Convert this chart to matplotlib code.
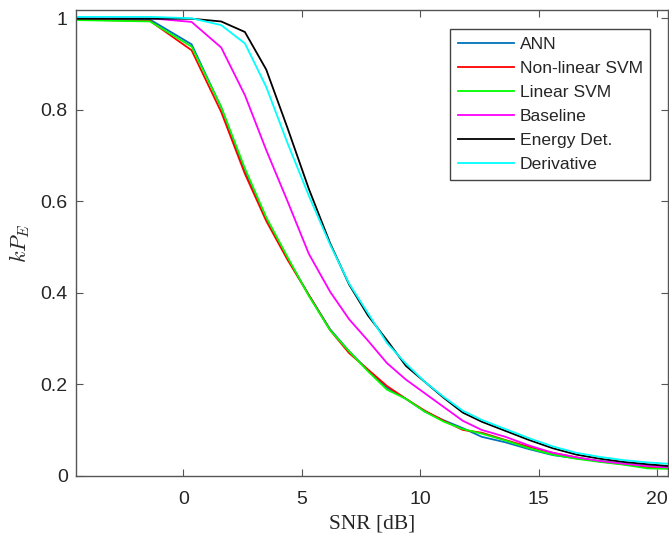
import matplotlib
matplotlib.use("Agg")
import matplotlib.pyplot as plt

# SNR grid (dB)
snr = [-4.5, -1.4, 0.35, 1.6, 2.6, 3.5, 4.4, 5.3, 6.2, 7.0, 7.8, 8.6, 9.4,
       10.2, 11.0, 11.8, 12.6, 13.6, 14.6, 15.6, 16.6, 17.6, 18.6, 19.6, 20.5]

ann = [1.000, 0.997, 0.943, 0.805, 0.665, 0.562, 0.475, 0.395, 0.320, 0.272,
       0.230, 0.192, 0.168, 0.140, 0.121, 0.104, 0.085, 0.073, 0.058, 0.045,
       0.038, 0.032, 0.026, 0.021, 0.018]
svm_nl = [0.997, 0.994, 0.930, 0.795, 0.660, 0.557, 0.472, 0.395, 0.318, 0.268,
          0.232, 0.196, 0.168, 0.142, 0.120, 0.100, 0.094, 0.078, 0.063, 0.050,
          0.040, 0.031, 0.025, 0.019, 0.016]
svm_lin = [0.996, 0.993, 0.938, 0.806, 0.672, 0.565, 0.478, 0.393, 0.318, 0.272,
           0.228, 0.188, 0.168, 0.140, 0.118, 0.102, 0.092, 0.077, 0.060, 0.046,
           0.037, 0.030, 0.024, 0.016, 0.015]
baseline = [1.000, 1.000, 0.992, 0.936, 0.832, 0.712, 0.600, 0.485, 0.402, 0.342,
            0.295, 0.246, 0.210, 0.180, 0.150, 0.120, 0.100, 0.085, 0.066, 0.050,
            0.040, 0.032, 0.026, 0.021, 0.018]
energy = [0.999, 0.999, 0.999, 0.993, 0.970, 0.888, 0.760, 0.627, 0.508, 0.418,
          0.350, 0.296, 0.240, 0.205, 0.170, 0.138, 0.118, 0.098, 0.078, 0.060,
          0.046, 0.037, 0.030, 0.025, 0.021]
deriv = [1.003, 1.003, 1.000, 0.985, 0.945, 0.850, 0.727, 0.612, 0.505, 0.420,
         0.355, 0.290, 0.245, 0.205, 0.172, 0.142, 0.122, 0.102, 0.082, 0.064,
         0.050, 0.041, 0.034, 0.029, 0.026]

labels = ["ANN", "Non-linear SVM", "Linear SVM", "Baseline", "Energy Det.", "Derivative"]
colors = ["#0072BD", "#FF0000", "#00FF00", "#FF00FF", "#000000", "#00FFFF"]
series = [ann, svm_nl, svm_lin, baseline, energy, deriv]

plt.rcParams["font.family"] = ["Liberation Sans", "DejaVu Sans"]
plt.rcParams["mathtext.fontset"] = "cm"

fig = plt.figure(figsize=(6.69, 5.36), dpi=100)
ax = fig.add_axes([0.1136, 0.1125, 0.8855, 0.8688])

for y, lab, c in zip(series, labels, colors):
    ax.plot(snr, y, color=c, lw=1.3, label=lab)

ax.set_xlim(-4.53, 20.48)
ax.set_ylim(0, 1.018)
ax.set_xticks([0, 5, 10, 15, 20])
ax.set_yticks([0, 0.2, 0.4, 0.6, 0.8, 1.0])
ax.set_yticklabels(["0", "0.2", "0.4", "0.6", "0.8", "1"])

gray = "#262626"
for s in ax.spines.values():
    s.set_color("#555555")
    s.set_linewidth(1.0)
ax.tick_params(direction="in", top=True, right=True, length=5, width=0.8,
               color="#555555", labelsize=14, labelcolor=gray)
ax.tick_params(axis="x", pad=11)
ax.tick_params(axis="y", pad=6)

ax.set_xlabel("SNR [dB]", family="Liberation Serif", fontsize=15.5, color=gray, labelpad=5)
ax.set_ylabel(r"$kP_E$", fontsize=16, color=gray, labelpad=6)

leg = ax.legend(loc="upper right", bbox_to_anchor=(0.9696, 0.959), borderaxespad=0,
                fontsize=12.6, handlelength=3.2, handletextpad=0.3, labelspacing=0.5,
                borderpad=0.45, fancybox=False, framealpha=1, edgecolor="#444444")
leg.get_frame().set_linewidth(1.0)
for t in leg.get_texts():
    t.set_color(gray)

fig.savefig("out.png", dpi=100)
